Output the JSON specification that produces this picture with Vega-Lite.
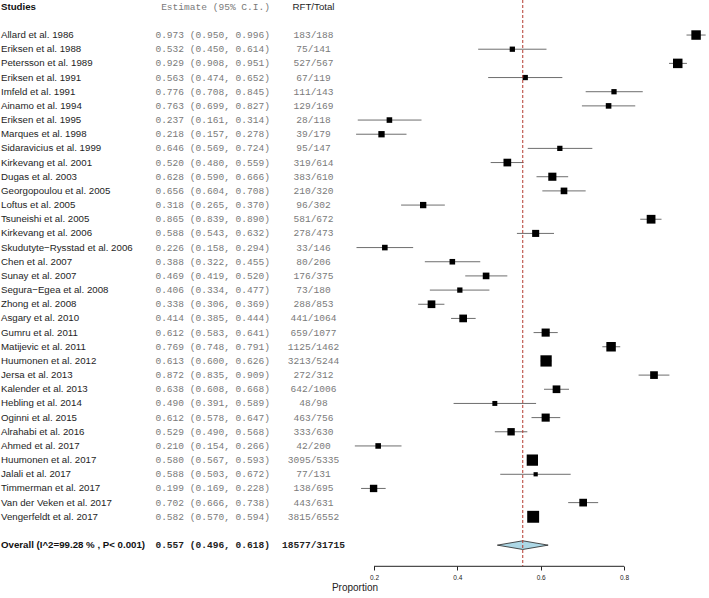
{
  "$schema": "https://vega.github.io/schema/vega-lite/v6.json",
  "width": 709,
  "height": 566,
  "autosize": "none",
  "padding": {"left": 0, "top": 0, "right": 0, "bottom": 32},
  "background": "white",
  "config": {
    "view": {"stroke": null},
    "axisX": {
      "domain": false,
      "grid": false,
      "ticks": true,
      "tickSize": 4,
      "tickColor": "#222",
      "tickWidth": 1,
      "labelFont": "Liberation Sans",
      "labelFontSize": 6.5,
      "labelColor": "#222",
      "labelPadding": 4,
      "titleFont": "Liberation Sans",
      "titleFontSize": 10,
      "titleFontWeight": "normal",
      "titleColor": "#222",
      "titlePadding": 2
    }
  },
  "datasets": {
    "studies": [
      {"study": "Allard et al. 1986", "est": 0.973, "lo": 0.950, "hi": 0.996, "rft": 183, "total": 188, "w": 9},
      {"study": "Eriksen et al. 1988", "est": 0.532, "lo": 0.450, "hi": 0.614, "rft": 75, "total": 141, "w": 5},
      {"study": "Petersson et al. 1989", "est": 0.929, "lo": 0.908, "hi": 0.951, "rft": 527, "total": 567, "w": 9},
      {"study": "Eriksen et al. 1991", "est": 0.563, "lo": 0.474, "hi": 0.652, "rft": 67, "total": 119, "w": 5},
      {"study": "Imfeld et al. 1991", "est": 0.776, "lo": 0.708, "hi": 0.845, "rft": 111, "total": 143, "w": 5},
      {"study": "Ainamo et al. 1994", "est": 0.763, "lo": 0.699, "hi": 0.827, "rft": 129, "total": 169, "w": 5.3},
      {"study": "Eriksen et al. 1995", "est": 0.237, "lo": 0.161, "hi": 0.314, "rft": 28, "total": 118, "w": 5.3},
      {"study": "Marques et al. 1998", "est": 0.218, "lo": 0.157, "hi": 0.278, "rft": 39, "total": 179, "w": 6},
      {"study": "Sidaravicius et al. 1999", "est": 0.646, "lo": 0.569, "hi": 0.724, "rft": 95, "total": 147, "w": 5},
      {"study": "Kirkevang et al. 2001", "est": 0.520, "lo": 0.480, "hi": 0.559, "rft": 319, "total": 614, "w": 7.3},
      {"study": "Dugas et al. 2003", "est": 0.628, "lo": 0.590, "hi": 0.666, "rft": 383, "total": 610, "w": 7.7},
      {"study": "Georgopoulou et al. 2005", "est": 0.656, "lo": 0.604, "hi": 0.708, "rft": 210, "total": 320, "w": 6.3},
      {"study": "Loftus et al. 2005", "est": 0.318, "lo": 0.265, "hi": 0.370, "rft": 96, "total": 302, "w": 6},
      {"study": "Tsuneishi et al. 2005", "est": 0.865, "lo": 0.839, "hi": 0.890, "rft": 581, "total": 672, "w": 8.3},
      {"study": "Kirkevang et al. 2006", "est": 0.588, "lo": 0.543, "hi": 0.632, "rft": 278, "total": 473, "w": 6.7},
      {"study": "Skudutyte−Rysstad et al. 2006", "est": 0.226, "lo": 0.158, "hi": 0.294, "rft": 33, "total": 146, "w": 5.3},
      {"study": "Chen et al. 2007", "est": 0.388, "lo": 0.322, "hi": 0.455, "rft": 80, "total": 206, "w": 5.3},
      {"study": "Sunay et al. 2007", "est": 0.469, "lo": 0.419, "hi": 0.520, "rft": 176, "total": 375, "w": 6.3},
      {"study": "Segura−Egea et al. 2008", "est": 0.406, "lo": 0.334, "hi": 0.477, "rft": 73, "total": 180, "w": 5},
      {"study": "Zhong et al. 2008", "est": 0.338, "lo": 0.306, "hi": 0.369, "rft": 288, "total": 853, "w": 7.3},
      {"study": "Asgary et al. 2010", "est": 0.414, "lo": 0.385, "hi": 0.444, "rft": 441, "total": 1064, "w": 7.3},
      {"study": "Gumru et al. 2011", "est": 0.612, "lo": 0.583, "hi": 0.641, "rft": 659, "total": 1077, "w": 7.7},
      {"study": "Matijevic et al. 2011", "est": 0.769, "lo": 0.748, "hi": 0.791, "rft": 1125, "total": 1462, "w": 9},
      {"study": "Huumonen et al. 2012", "est": 0.613, "lo": 0.600, "hi": 0.626, "rft": 3213, "total": 5244, "w": 10.7},
      {"study": "Jersa et al. 2013", "est": 0.872, "lo": 0.835, "hi": 0.909, "rft": 272, "total": 312, "w": 7.3},
      {"study": "Kalender et al. 2013", "est": 0.638, "lo": 0.608, "hi": 0.668, "rft": 642, "total": 1006, "w": 7.3},
      {"study": "Hebling et al. 2014", "est": 0.490, "lo": 0.391, "hi": 0.589, "rft": 48, "total": 98, "w": 4.7},
      {"study": "Oginni et al. 2015", "est": 0.612, "lo": 0.578, "hi": 0.647, "rft": 463, "total": 756, "w": 7.7},
      {"study": "Alrahabi et al. 2016", "est": 0.529, "lo": 0.490, "hi": 0.568, "rft": 333, "total": 630, "w": 7},
      {"study": "Ahmed et al. 2017", "est": 0.210, "lo": 0.154, "hi": 0.266, "rft": 42, "total": 200, "w": 5.3},
      {"study": "Huumonen et al. 2017", "est": 0.580, "lo": 0.567, "hi": 0.593, "rft": 3095, "total": 5335, "w": 10.7},
      {"study": "Jalali et al. 2017", "est": 0.588, "lo": 0.503, "hi": 0.672, "rft": 77, "total": 131, "w": 4},
      {"study": "Timmerman et al. 2017", "est": 0.199, "lo": 0.169, "hi": 0.228, "rft": 138, "total": 695, "w": 7},
      {"study": "Van der Veken et al. 2017", "est": 0.702, "lo": 0.666, "hi": 0.738, "rft": 443, "total": 631, "w": 7.3},
      {"study": "Vengerfeldt et al. 2017", "est": 0.582, "lo": 0.570, "hi": 0.594, "rft": 3815, "total": 6552, "w": 11.3}
    ],
    "overall": [
      {"study": "Overall (I^2=99.28 % , P< 0.001)", "est": 0.557, "lo": 0.496, "hi": 0.618, "rft": 18577, "total": 31715}
    ],
    "header": [
      {"study": "__hdr", "c1": "Studies", "c2": "Estimate (95% C.I.)", "c3": "RFT/Total"}
    ],
    "axisline": [
      {"study": "__g3", "from": 0.2, "to": 0.8}
    ]
  },
  "encoding": {
    "y": {
      "field": "study",
      "type": "nominal",
      "axis": null,
      "scale": {
        "type": "point",
        "padding": 0.473,
        "domain": ["__hdr", "__g1",
          "Allard et al. 1986", "Eriksen et al. 1988", "Petersson et al. 1989", "Eriksen et al. 1991", "Imfeld et al. 1991", "Ainamo et al. 1994", "Eriksen et al. 1995", "Marques et al. 1998", "Sidaravicius et al. 1999", "Kirkevang et al. 2001", "Dugas et al. 2003", "Georgopoulou et al. 2005", "Loftus et al. 2005", "Tsuneishi et al. 2005", "Kirkevang et al. 2006", "Skudutyte−Rysstad et al. 2006", "Chen et al. 2007", "Sunay et al. 2007", "Segura−Egea et al. 2008", "Zhong et al. 2008", "Asgary et al. 2010", "Gumru et al. 2011", "Matijevic et al. 2011", "Huumonen et al. 2012", "Jersa et al. 2013", "Kalender et al. 2013", "Hebling et al. 2014", "Oginni et al. 2015", "Alrahabi et al. 2016", "Ahmed et al. 2017", "Huumonen et al. 2017", "Jalali et al. 2017", "Timmerman et al. 2017", "Van der Veken et al. 2017", "Vengerfeldt et al. 2017",
          "__g2", "Overall (I^2=99.28 % , P< 0.001)", "__g3"]
      }
    }
  },
  "layer": [
    {
      "data": {"name": "studies"},
      "mark": {"type": "rule", "color": "#6e6e6e", "strokeWidth": 1},
      "encoding": {
        "x": {
          "field": "lo", "type": "quantitative",
          "scale": {"domain": [-0.6976, 1.004], "nice": false, "zero": false},
          "axis": {
            "values": [0.2, 0.4, 0.6, 0.8],
            "format": ".1f",
            "title": "Proportion"
          }
        },
        "x2": {"field": "hi"}
      }
    },
    {
      "data": {"name": "axisline"},
      "mark": {"type": "rule", "color": "#222", "strokeWidth": 1, "yOffset": 7},
      "encoding": {
        "x": {"field": "from", "type": "quantitative"},
        "x2": {"field": "to"}
      }
    },
    {
      "data": {"name": "studies"},
      "mark": {"type": "point", "shape": "square", "filled": true, "color": "black", "opacity": 1},
      "encoding": {
        "x": {"field": "est", "type": "quantitative"},
        "size": {"field": "w", "type": "quantitative", "legend": null,
                 "scale": {"type": "pow", "exponent": 2, "domain": [0, 12], "range": [0, 160]}}
      }
    },
    {
      "data": {"name": "overall"},
      "mark": {"type": "point", "shape": "M-1,0L0,-0.171L1,0L0,0.171Z", "size": 2581, "filled": true, "fill": "#add8e6", "stroke": "#222", "strokeWidth": 0.8, "opacity": 1},
      "encoding": {
        "x": {"field": "est", "type": "quantitative"}
      }
    },
    {
      "data": {"name": "overall"},
      "mark": {"type": "rule", "color": "#b5382e", "strokeWidth": 1, "strokeDash": [3, 2]},
      "encoding": {
        "x": {"field": "est", "type": "quantitative"},
        "y": null
      }
    },
    {
      "data": {"name": "studies"},
      "mark": {"type": "text", "align": "left", "baseline": "middle", "font": "Liberation Sans", "fontSize": 9.7, "color": "#1e1e1e"},
      "encoding": {
        "x": {"datum": -0.6952, "type": "quantitative"},
        "text": {"field": "study"}
      }
    },
    {
      "data": {"name": "studies"},
      "transform": [{"calculate": "format(datum.est, '.3f') + ' (' + format(datum.lo, '.3f') + ', ' + format(datum.hi, '.3f') + ')'", "as": "ci"}],
      "mark": {"type": "text", "align": "right", "baseline": "middle", "font": "Liberation Mono", "fontSize": 9.55, "color": "#7a7a7a"},
      "encoding": {
        "x": {"datum": -0.0496, "type": "quantitative"},
        "text": {"field": "ci"}
      }
    },
    {
      "data": {"name": "studies"},
      "transform": [{"calculate": "datum.rft + '/' + datum.total", "as": "frac"}],
      "mark": {"type": "text", "align": "center", "baseline": "middle", "font": "Liberation Mono", "fontSize": 9.55, "color": "#7a7a7a"},
      "encoding": {
        "x": {"datum": 0.0548, "type": "quantitative"},
        "text": {"field": "frac"}
      }
    },
    {
      "data": {"name": "overall"},
      "mark": {"type": "text", "align": "left", "baseline": "middle", "font": "Liberation Sans", "fontSize": 9.7, "fontWeight": "bold", "color": "#111"},
      "encoding": {
        "x": {"datum": -0.6952, "type": "quantitative"},
        "text": {"field": "study"}
      }
    },
    {
      "data": {"name": "overall"},
      "transform": [{"calculate": "format(datum.est, '.3f') + ' (' + format(datum.lo, '.3f') + ', ' + format(datum.hi, '.3f') + ')'", "as": "ci"}],
      "mark": {"type": "text", "align": "right", "baseline": "middle", "font": "Liberation Mono", "fontSize": 9.55, "fontWeight": "bold", "color": "#222"},
      "encoding": {
        "x": {"datum": -0.0496, "type": "quantitative"},
        "text": {"field": "ci"}
      }
    },
    {
      "data": {"name": "overall"},
      "transform": [{"calculate": "datum.rft + '/' + datum.total", "as": "frac"}],
      "mark": {"type": "text", "align": "center", "baseline": "middle", "font": "Liberation Mono", "fontSize": 9.55, "fontWeight": "bold", "color": "#222"},
      "encoding": {
        "x": {"datum": 0.0548, "type": "quantitative"},
        "text": {"field": "frac"}
      }
    },
    {
      "data": {"name": "header"},
      "mark": {"type": "text", "align": "left", "baseline": "middle", "font": "Liberation Sans", "fontSize": 9.7, "fontWeight": "bold", "color": "#111"},
      "encoding": {
        "x": {"datum": -0.6952, "type": "quantitative"},
        "text": {"field": "c1"}
      }
    },
    {
      "data": {"name": "header"},
      "mark": {"type": "text", "align": "right", "baseline": "middle", "font": "Liberation Mono", "fontSize": 9.55, "color": "#7a7a7a"},
      "encoding": {
        "x": {"datum": -0.0496, "type": "quantitative"},
        "text": {"field": "c2"}
      }
    },
    {
      "data": {"name": "header"},
      "mark": {"type": "text", "align": "center", "baseline": "middle", "font": "Liberation Sans", "fontSize": 9.7, "color": "#1e1e1e"},
      "encoding": {
        "x": {"datum": 0.0548, "type": "quantitative"},
        "text": {"field": "c3"}
      }
    }
  ]
}
